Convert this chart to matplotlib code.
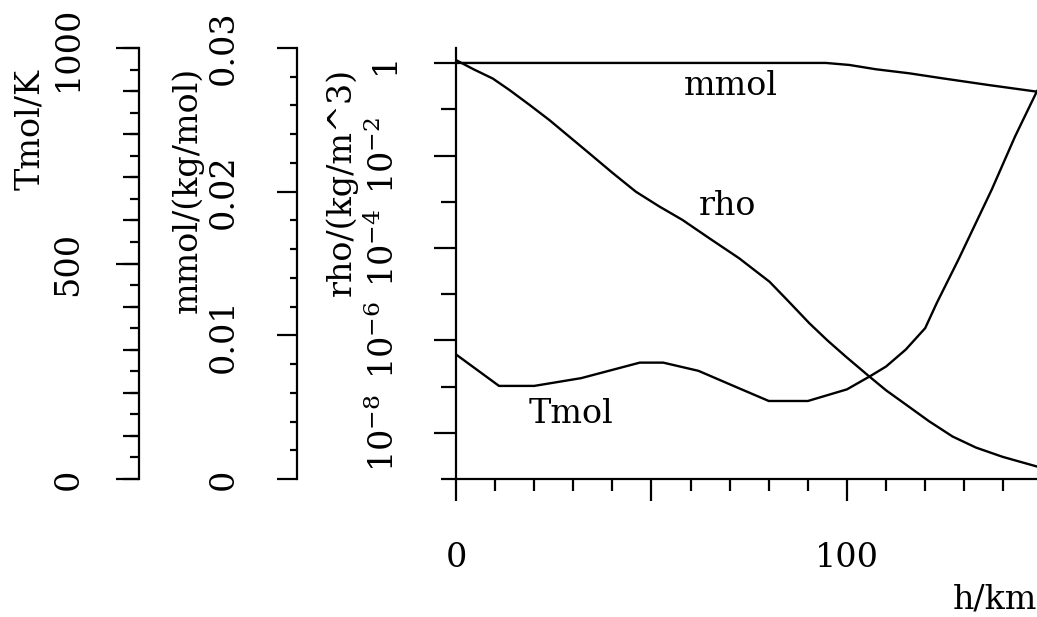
import numpy as np
import matplotlib
matplotlib.use('Agg')
import matplotlib.pyplot as plt
from matplotlib.ticker import FixedLocator, FixedFormatter, MultipleLocator, NullFormatter

plt.rcParams.update({
    'font.family': 'DejaVu Serif',
    'mathtext.fontset': 'dejavuserif',
    'font.size': 24,
    'axes.linewidth': 1.6,
})

# profiles
h_T = [0, 11, 20, 32, 47, 53, 62, 72, 80, 90, 100, 106, 110, 115, 120, 123, 128.5, 137, 143, 148.6]
T_mol = [289, 216, 216, 234, 270, 270, 251, 212, 181, 181, 208, 239, 261, 300, 350, 409, 509, 671, 795, 900]

h_m = [0, 94.6, 100.6, 107.4, 115.9, 124.4, 136.3, 148.6]
m_mol = [0.02896, 0.02896, 0.02882, 0.02852, 0.02824, 0.02789, 0.02742, 0.02696]

h_rho = [0, 4.5, 9.4, 13.7, 18.8, 23.9, 29.0, 34.1, 40.0, 46.0, 52.0, 57.9, 65.0, 72.4,
         80.2, 85.0, 90.4, 95.0, 99.7, 105.7, 110.0, 115.1, 121.0, 127.0, 133.0, 139.8, 148.6]
log_rho = [0.07, -0.13, -0.33, -0.58, -0.90, -1.23, -1.59, -1.95, -2.37, -2.78, -3.10, -3.39,
           -3.80, -4.22, -4.73, -5.15, -5.63, -6.00, -6.35, -6.78, -7.08, -7.39, -7.75, -8.08,
           -8.32, -8.52, -8.73]
rho = [10.0 ** v for v in log_rho]

rho_major = [1e-8, 1e-6, 1e-4, 1e-2, 1]
rho_labels = ['10$^{-8}$', '10$^{-6}$', '10$^{-4}$', '10$^{-2}$', '1']
rho_minor = [1e-9, 1e-7, 1e-5, 1e-3, 1e-1]

PT = 0.72  # points per pixel at dpi 100
LW = 1.7

fig = plt.figure(figsize=(10.37, 6.17), dpi=100)
ax = fig.add_axes([456 / 1037, (617 - 479) / 617, 581 / 1037, 431 / 617])

# rho (main axis)
ax.semilogy(h_rho, rho, color='black', lw=LW)
ax.set_xlim(0, 148.6)
ax.set_ylim(1e-9, 10 ** 0.331)
ax.spines['top'].set_visible(False)
ax.spines['right'].set_visible(False)
ax.yaxis.set_major_locator(FixedLocator(rho_major))
ax.yaxis.set_major_formatter(FixedFormatter(rho_labels))
ax.yaxis.set_minor_locator(FixedLocator(rho_minor))
ax.yaxis.set_minor_formatter(NullFormatter())
ax.tick_params(axis='y', which='major', length=22 * PT, width=1.6, pad=33 * PT, labelrotation=90)
ax.tick_params(axis='y', which='minor', length=15 * PT, width=1.6)
ax.set_xticks([0, 50, 100])
ax.set_xticklabels(['0', '', '100'])
ax.xaxis.set_minor_locator(MultipleLocator(10))
ax.tick_params(axis='x', which='major', length=22 * PT, width=1.6, pad=41 * PT)
ax.tick_params(axis='x', which='minor', length=12 * PT, width=1.6)
ax.set_ylabel('rho/(kg/m^3)')
ax.yaxis.set_label_coords((358 - 456) / 581, 0.69)
ax.set_xlabel('h/km')
ax.xaxis.set_label_coords(0.928, -0.243)


def side_axis(offset_px):
    a = ax.twinx()
    for s in ['top', 'right', 'bottom']:
        a.spines[s].set_visible(False)
    a.spines['left'].set_visible(True)
    a.spines['left'].set_position(('outward', offset_px * PT))
    a.yaxis.set_ticks_position('left')
    a.yaxis.set_label_position('left')
    a.set_xlim(0, 148.6)
    return a


# Tmol axis
axT = side_axis(456 - 139.3)
axT.plot(h_T, T_mol, color='black', lw=LW)
axT.set_ylim(0, 1000)
axT.yaxis.set_major_locator(FixedLocator([0, 500, 1000]))
axT.yaxis.set_minor_locator(MultipleLocator(50))
axT.tick_params(axis='y', which='major', length=23 * PT, width=1.6, pad=32 * PT, labelrotation=90)
axT.tick_params(axis='y', which='minor', length=9 * PT, width=1.6)
axT.set_ylabel('Tmol/K')
axT.yaxis.set_label_coords((46 - 456) / 581, 0.81)

# medium ticks every 100 K
axT2 = side_axis(456 - 139.3)
axT2.set_ylim(0, 1000)
axT2.spines['left'].set_visible(False)
axT2.yaxis.set_major_locator(MultipleLocator(100))
axT2.yaxis.set_major_formatter(NullFormatter())
axT2.tick_params(axis='y', which='major', length=16 * PT, width=1.6)

# mmol axis
axM = side_axis(456 - 297)
axM.plot(h_m, m_mol, color='black', lw=LW)
axM.set_ylim(0, 0.03)
axM.yaxis.set_major_locator(FixedLocator([0, 0.01, 0.02, 0.03]))
axM.yaxis.set_major_formatter(FixedFormatter(['0', '0.01', '0.02', '0.03']))
axM.yaxis.set_minor_locator(MultipleLocator(0.002))
axM.tick_params(axis='y', which='major', length=20 * PT, width=1.6, pad=37 * PT, labelrotation=90)
axM.tick_params(axis='y', which='minor', length=7 * PT, width=1.6)
axM.set_ylabel('mmol/(kg/mol)')
axM.yaxis.set_label_coords((204 - 456) / 581, 0.67)

for a in (ax, axT, axM):
    for lab in a.get_yticklabels():
        lab.set_va('center')

# curve names
axT.text(58.3, 891, 'mmol', va='baseline', ha='left')
axT.text(62.2, 612, 'rho', va='baseline', ha='left')
axT.text(18.6, 131, 'Tmol', va='baseline', ha='left')

fig.savefig('out.png', dpi=100)
